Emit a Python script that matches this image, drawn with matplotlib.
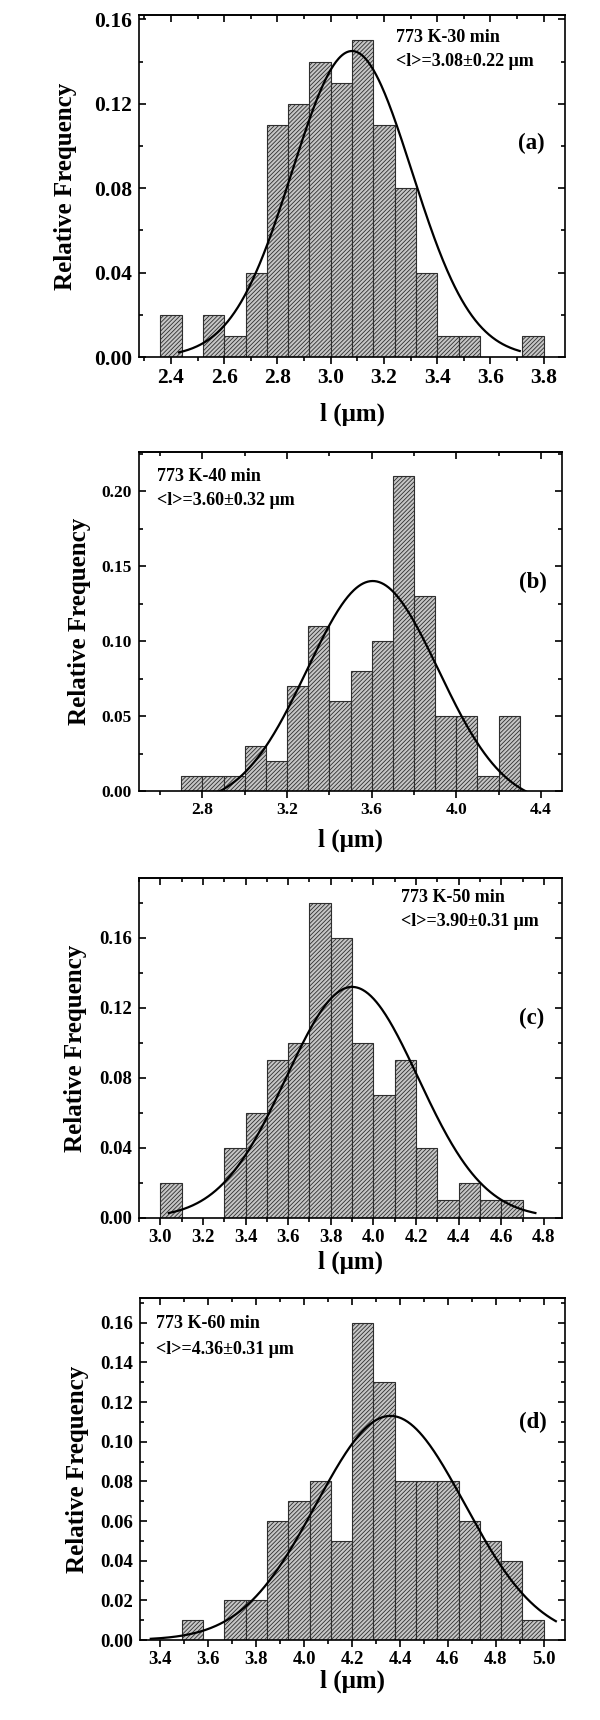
import numpy as np
import matplotlib.pyplot as plt
from matplotlib.ticker import MultipleLocator, FormatStrFormatter

plt.rcParams['font.family'] = ['Liberation Serif', 'DejaVu Serif']
plt.rcParams['font.weight'] = 'bold'
plt.rcParams['hatch.linewidth'] = 0.6
plt.rcParams['axes.linewidth'] = 1.2

# histogram bins: first left edge, bin width, relative frequency per bin
a_start, a_width = 2.36, 0.08
a_freq = [0.02, 0.0, 0.02, 0.01, 0.04, 0.11, 0.12, 0.14, 0.13, 0.15,
          0.11, 0.08, 0.04, 0.01, 0.01, 0.0, 0.0, 0.01]
b_start, b_width = 2.7, 0.1
b_freq = [0.01, 0.01, 0.01, 0.03, 0.02, 0.07, 0.11, 0.06, 0.08, 0.10,
          0.21, 0.13, 0.05, 0.05, 0.01, 0.05]
c_start, c_width = 3.0, 0.1
c_freq = [0.02, 0.0, 0.0, 0.04, 0.06, 0.09, 0.10, 0.18, 0.16, 0.10,
          0.07, 0.09, 0.04, 0.01, 0.02, 0.01, 0.01]
d_start, d_width = 3.49, 0.0888
d_freq = [0.01, 0.0, 0.02, 0.02, 0.06, 0.07, 0.08, 0.05, 0.16, 0.13,
          0.08, 0.08, 0.08, 0.06, 0.05, 0.04, 0.01]

# gaussian fit: centre, width, amplitude, baseline, drawn from, drawn to
a_fit = [3.08, 0.225, 0.145, 0.0, 2.43, 3.71]
b_fit = [3.605, 0.31, 0.150, -0.010, 2.88, 4.33]
c_fit = [3.90, 0.31, 0.132, 0.0, 3.04, 4.76]
d_fit = [4.36, 0.31, 0.113, 0.0, 3.36, 5.05]

conditions = ['773 K-30 min', '773 K-40 min', '773 K-50 min', '773 K-60 min']
mean_texts = ['<l>=3.08\u00b10.22 \u03bcm', '<l>=3.60\u00b10.32 \u03bcm',
              '<l>=3.90\u00b10.31 \u03bcm', '<l>=4.36\u00b10.31 \u03bcm']
panel_labels = ['(a)', '(b)', '(c)', '(d)']


def draw_panel(ax, start, width, freq, fit, xlim, ylim, xmaj, ymaj, tick_size):
    """ hatched histogram with gaussian fit line """
    freq = np.array(freq)
    lefts = start + width * np.arange(len(freq))
    keep = freq > 0
    ax.bar(lefts[keep], freq[keep], width=width, align='edge',
           facecolor='#c6c6c6', edgecolor='#2e2e2e', linewidth=0.8, hatch='////////')
    xc, w, amp, y0, x0, x1 = fit
    x = np.linspace(x0, x1, 400)
    ax.plot(x, y0 + amp * np.exp(-(x - xc) ** 2 / (2 * w ** 2)), color='black', lw=1.6)

    ax.set_xlim(*xlim)
    ax.set_ylim(*ylim)
    ax.xaxis.set_major_locator(MultipleLocator(xmaj))
    ax.xaxis.set_minor_locator(MultipleLocator(xmaj / 2))
    ax.yaxis.set_major_locator(MultipleLocator(ymaj))
    ax.yaxis.set_minor_locator(MultipleLocator(ymaj / 2))
    ax.xaxis.set_major_formatter(FormatStrFormatter('%.1f'))
    ax.yaxis.set_major_formatter(FormatStrFormatter('%.2f'))
    ax.tick_params(axis='x', which='both', direction='out', top=False, width=1.2,
                   labelsize=tick_size, pad=3)
    ax.tick_params(axis='y', which='both', direction='in', left=True, right=True,
                   width=1.2, labelsize=tick_size, pad=5)
    ax.tick_params(which='major', length=5)
    ax.tick_params(which='minor', length=3)

    top = ax.secondary_xaxis('top')
    top.xaxis.set_major_locator(MultipleLocator(xmaj))
    top.xaxis.set_minor_locator(MultipleLocator(xmaj / 2))
    top.tick_params(axis='x', which='both', direction='in', labeltop=False, width=1.2)
    top.tick_params(which='major', length=5)
    top.tick_params(which='minor', length=3)

    ax.set_xlabel('l (\u03bcm)', fontsize=18, fontweight='bold')
    ax.set_ylabel('Relative Frequency', fontsize=18, fontweight='bold')


fig = plt.figure(figsize=(6, 17.2), dpi=100)

ax_a = fig.add_axes([0.2317, 0.7924, 0.710, 0.1988])
ax_b = fig.add_axes([0.2317, 0.5401, 0.705, 0.1971])
ax_c = fig.add_axes([0.2317, 0.2919, 0.705, 0.1977])
ax_d = fig.add_axes([0.2333, 0.0465, 0.7083, 0.1988])

draw_panel(ax_a, a_start, a_width, a_freq, a_fit, (2.28, 3.88), (0, 0.162), 0.2, 0.04, 15.5)
draw_panel(ax_b, b_start, b_width, b_freq, b_fit, (2.5, 4.5), (0, 0.226), 0.4, 0.05, 12.5)
draw_panel(ax_c, c_start, c_width, c_freq, c_fit, (2.9, 4.885), (0, 0.1943), 0.2, 0.04, 13.5)
draw_panel(ax_d, d_start, d_width, d_freq, d_fit, (3.315, 5.088), (0, 0.1724), 0.2, 0.02, 13.5)

axes = [ax_a, ax_b, ax_c, ax_d]
text_pos = [(0.603, 0.936, 0.863), (0.043, 0.929, 0.858),
            (0.619, 0.941, 0.871), (0.038, 0.927, 0.851)]
label_pos = [(0.922, 0.626), (0.931, 0.614), (0.928, 0.588), (0.925, 0.635)]
ylab_x = [-0.146, -0.113, -0.123, -0.12]
xlab_y = [-0.132, -0.112, -0.097, -0.085]

for i, ax in enumerate(axes):
    tx, ty1, ty2 = text_pos[i]
    ax.text(tx, ty1, conditions[i], transform=ax.transAxes, fontsize=13,
            fontweight='bold', ha='left', va='center')
    ax.text(tx, ty2, mean_texts[i], transform=ax.transAxes, fontsize=13,
            fontweight='bold', ha='left', va='center')
    lx, ly = label_pos[i]
    ax.text(lx, ly, panel_labels[i], transform=ax.transAxes, fontsize=16.5,
            fontweight='bold', ha='center', va='center')
    ax.yaxis.set_label_coords(ylab_x[i], 0.5)
    ax.xaxis.set_label_coords(0.5, xlab_y[i])

fig.savefig('out.png', dpi=100)
plt.close('all')
